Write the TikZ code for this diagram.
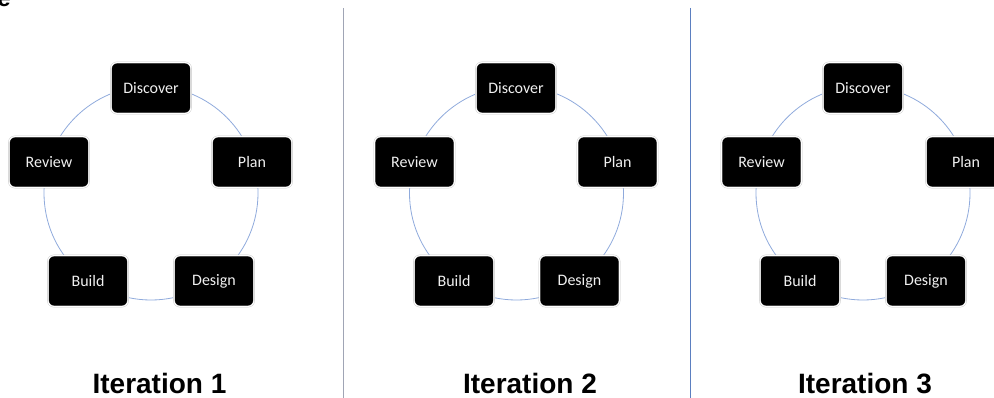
\documentclass[tikz,border=0pt]{standalone}
\usepackage{fontspec}
\setmainfont{Carlito}
\newfontfamily\headfont{Liberation Sans}
\usepackage{xcolor}
\definecolor{ringcolor}{HTML}{8FAADC}
\definecolor{rulecolor1}{HTML}{A0A5B5}
\definecolor{rulecolor2}{HTML}{5B7FC0}

\tikzset{
  stagebox/.style = {draw = black!22, double = white, double distance = 0.9pt, fill = black,
    rounded corners = 6pt, minimum width = 80pt, minimum height = 51pt, inner sep = 0pt,
    text = white!94!black, font = \fontsize{16}{19}\selectfont},
  ring/.style = {draw = ringcolor, line width = 0.8pt},
  iterlabel/.style = {anchor = base, inner sep = 0pt, font = \headfont\bfseries\fontsize{28}{32}\selectfont}
}

\begin{document}
\begin{tikzpicture}[x = 1pt, y = -1pt]
        \useasboundingbox (0, 0) rectangle (994, 398);

        % Rings
        \coordinate (c1) at (151, 193);
        \coordinate (c2) at (516.5, 193);
        \coordinate (c3) at (863, 193);
        \draw [ring] (c1) circle (107);
        \draw [ring] (c2) circle (107);
        \draw [ring] (c3) circle (107);

        % Nodes
        \node [stagebox] (disc1) at (151, 88) {Discover};
        \node [stagebox] (plan1) at (252, 162) {Plan};
        \node [stagebox] (des1) at (214, 281) {Design};
        \node [stagebox] (build1) at (88, 281) {Build};
        \node [stagebox] (rev1) at (49, 162) {Review};

        \node [stagebox] (disc2) at (516, 88) {Discover};
        \node [stagebox] (plan2) at (617.5, 162) {Plan};
        \node [stagebox] (des2) at (579.5, 281) {Design};
        \node [stagebox] (build2) at (454, 281) {Build};
        \node [stagebox] (rev2) at (414.5, 162) {Review};

        \node [stagebox] (disc3) at (863, 88) {Discover};
        \node [stagebox] (plan3) at (966, 162) {Plan};
        \node [stagebox] (des3) at (926, 281) {Design};
        \node [stagebox] (build3) at (800, 281) {Build};
        \node [stagebox] (rev3) at (761.5, 162) {Review};

        % Dividers
        \coordinate (top1) at (343, 8);
        \coordinate (bot1) at (343, 398);
        \coordinate (top2) at (690, 8);
        \coordinate (bot2) at (690, 398);
        \draw [rulecolor1, line width = 1pt] (top1) -- (bot1);
        \draw [rulecolor2, line width = 1pt] (top2) -- (bot2);

        % Iteration names
        \node [iterlabel] (it1) at (159.5, 393) {Iteration 1};
        \node [iterlabel] (it2) at (530, 393) {Iteration 2};
        \node [iterlabel] (it3) at (865, 393) {Iteration 3};

        % Cut-off title
        \node [anchor = base east, inner sep = 0pt, font = \headfont\bfseries\fontsize{24}{28}\selectfont] (cut) at (11, 7) {e};

    \end{tikzpicture}
\end{document}
